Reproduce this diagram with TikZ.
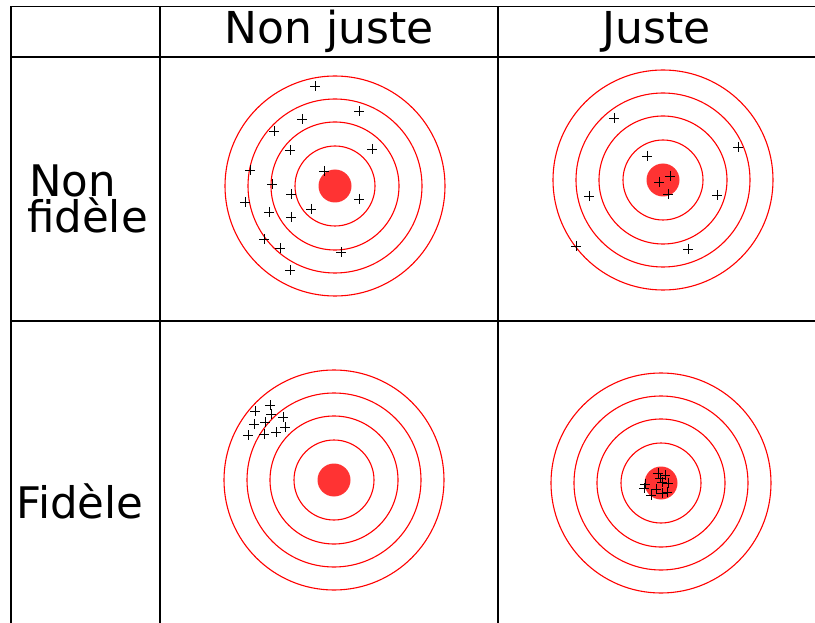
\documentclass[tikz,border=0pt]{standalone}
\usepackage{fontspec}
\setmainfont{DejaVu Sans}
\usetikzlibrary{positioning}
\definecolor{ringred}{HTML}{FF0000}
\definecolor{bullred}{HTML}{FF3333}
\tikzset{
  rule/.style={line width=1.6pt,black},
  ringline/.style={draw=ringred,line width=1.1pt},
  bullseye/.style={fill=bullred},
  hit/.style={line width=0.9pt,black},
  head/.style={font=\fontsize{44}{46}\selectfont,anchor=base,inner sep=0pt},
  side/.style={font=\fontsize{43.5}{35}\selectfont,anchor=base west,align=left,inner sep=0pt},
  target/.pic={
    \foreach \r in {110,87,64,40} \draw[ringline] (0,0) circle (\r pt);
    \fill[bullseye] (0,0) circle (16.5pt);
  },
}
\newcommand\hits[1]{\foreach \px/\py in {#1} \draw[hit] (\px,\py) +(-5,0) -- +(5,0) +(0,-5) -- +(0,5);}

\begin{document}
\begin{tikzpicture}[x=1pt,y=-1pt]
\useasboundingbox (0,0) rectangle (815,623);
% table
\draw[rule] (815,6.5) -- (11,6.5) -- (11,623);
\draw[rule] (11,57) -- (815,57);
\draw[rule] (11,321) -- (815,321);
\draw[rule] (160,6.5) -- (160,623);
\draw[rule] (498,6.5) -- (498,623);
\node[head] (nonjuste) at (329,44) {Non juste};
\node[head] (juste) at (656.5,44) {Juste};
\node[side] (nonfidele) at (27,233) {\hspace*{2pt}Non\\fidèle};
\node[side] (fidele) at (16,518) {Fidèle};
% targets
\pic at (335,186) {target};
\pic at (663,180) {target};
\pic at (334,480) {target};
\pic at (661,483) {target};
% non juste, non fidele
\hits{315/86, 359/111, 302/119, 274/131, 290/150, 372/149, 250/170, 324/171,
  272/184, 291/194, 245/202, 359/199, 269/212, 311/209, 291/217, 264/239,
  280/248, 341/252, 290/270}
% juste, non fidele
\hits{614/118, 738/147, 647/156, 659/182, 670/176, 668/194, 589/196, 717/195,
  576/246, 688/249}
% non juste, fidele
\hits{255/411, 270/405, 271/414, 283/417, 254/424, 265/422, 285/427, 248/435,
  264/434, 276/432}
% juste, fidele
\hits{658/473, 665/475, 660/478, 668/483, 662/482, 645/484, 644/488, 656/489,
  667/492, 662/493, 651/495}
\end{tikzpicture}
\end{document}
